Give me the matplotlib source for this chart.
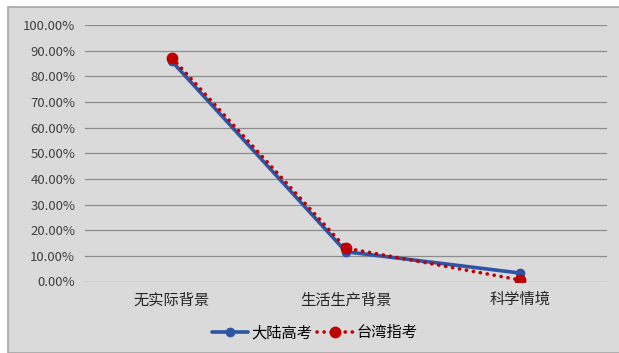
import matplotlib
matplotlib.use("Agg")
import matplotlib.pyplot as plt
from matplotlib.patches import Rectangle
from matplotlib.ticker import FuncFormatter, MultipleLocator

plt.rcParams['font.family'] = ['Noto Sans CJK SC', 'DejaVu Sans']

categories = ["无实际背景", "生活生产背景", "科学情境"]
mainland = [85.8, 11.6, 3.3]
taiwan = [87.2, 13.0, 0.6]
series_names = ["大陆高考", "台湾指考"]

fig = plt.figure(figsize=(6.19, 3.53), dpi=100)
fig.patch.set_facecolor("white")

# chart frame behind the plot
frame = Rectangle((8 / 619, 0), 1, 1 - 7 / 353, transform=fig.transFigure,
                  facecolor="#dadada", edgecolor="#a6a6a6", linewidth=1.2, zorder=-5)
fig.patches.append(frame)

ax = fig.add_axes([85 / 619, 1 - 281.5 / 353, (607 - 85) / 619, (281.5 - 25) / 353])
ax.set_zorder(2)
ax.set_facecolor("none")
for s in ax.spines.values():
    s.set_visible(False)

x = list(range(len(categories)))
ax.plot(x, mainland, color="#2e54a3", linewidth=2.6, marker="o", markersize=6,
        label=series_names[0], zorder=3, solid_capstyle="round")
ax.plot(x, taiwan, color="#c00000", linewidth=2.6, linestyle=(0, (0.05, 1.9)), marker="o",
        markersize=7.5, label=series_names[1], zorder=4, dash_capstyle="round")

ax.set_xlim(-0.5, 2.5)
ax.set_ylim(0, 100)
ax.yaxis.set_major_locator(MultipleLocator(10))
ax.yaxis.set_major_formatter(FuncFormatter(lambda v, p: f"{v:.2f}%"))
ax.grid(axis="y", color="#8c8c8c", linewidth=0.9)
ax.set_axisbelow(True)
ax.tick_params(axis="both", length=0)
ax.tick_params(axis="y", labelsize=9.5, labelcolor="#404040", pad=7)
ax.set_xticks(x)
ax.set_xticklabels(categories, fontsize=11, color="#262626")
ax.tick_params(axis="x", pad=7)

leg = ax.legend(loc="center", bbox_to_anchor=(0.44, -0.2), ncol=2, frameon=False,
                fontsize=11, handlelength=2.4, columnspacing=0.3, handletextpad=0.2)

fig.savefig("out.png", dpi=100)
